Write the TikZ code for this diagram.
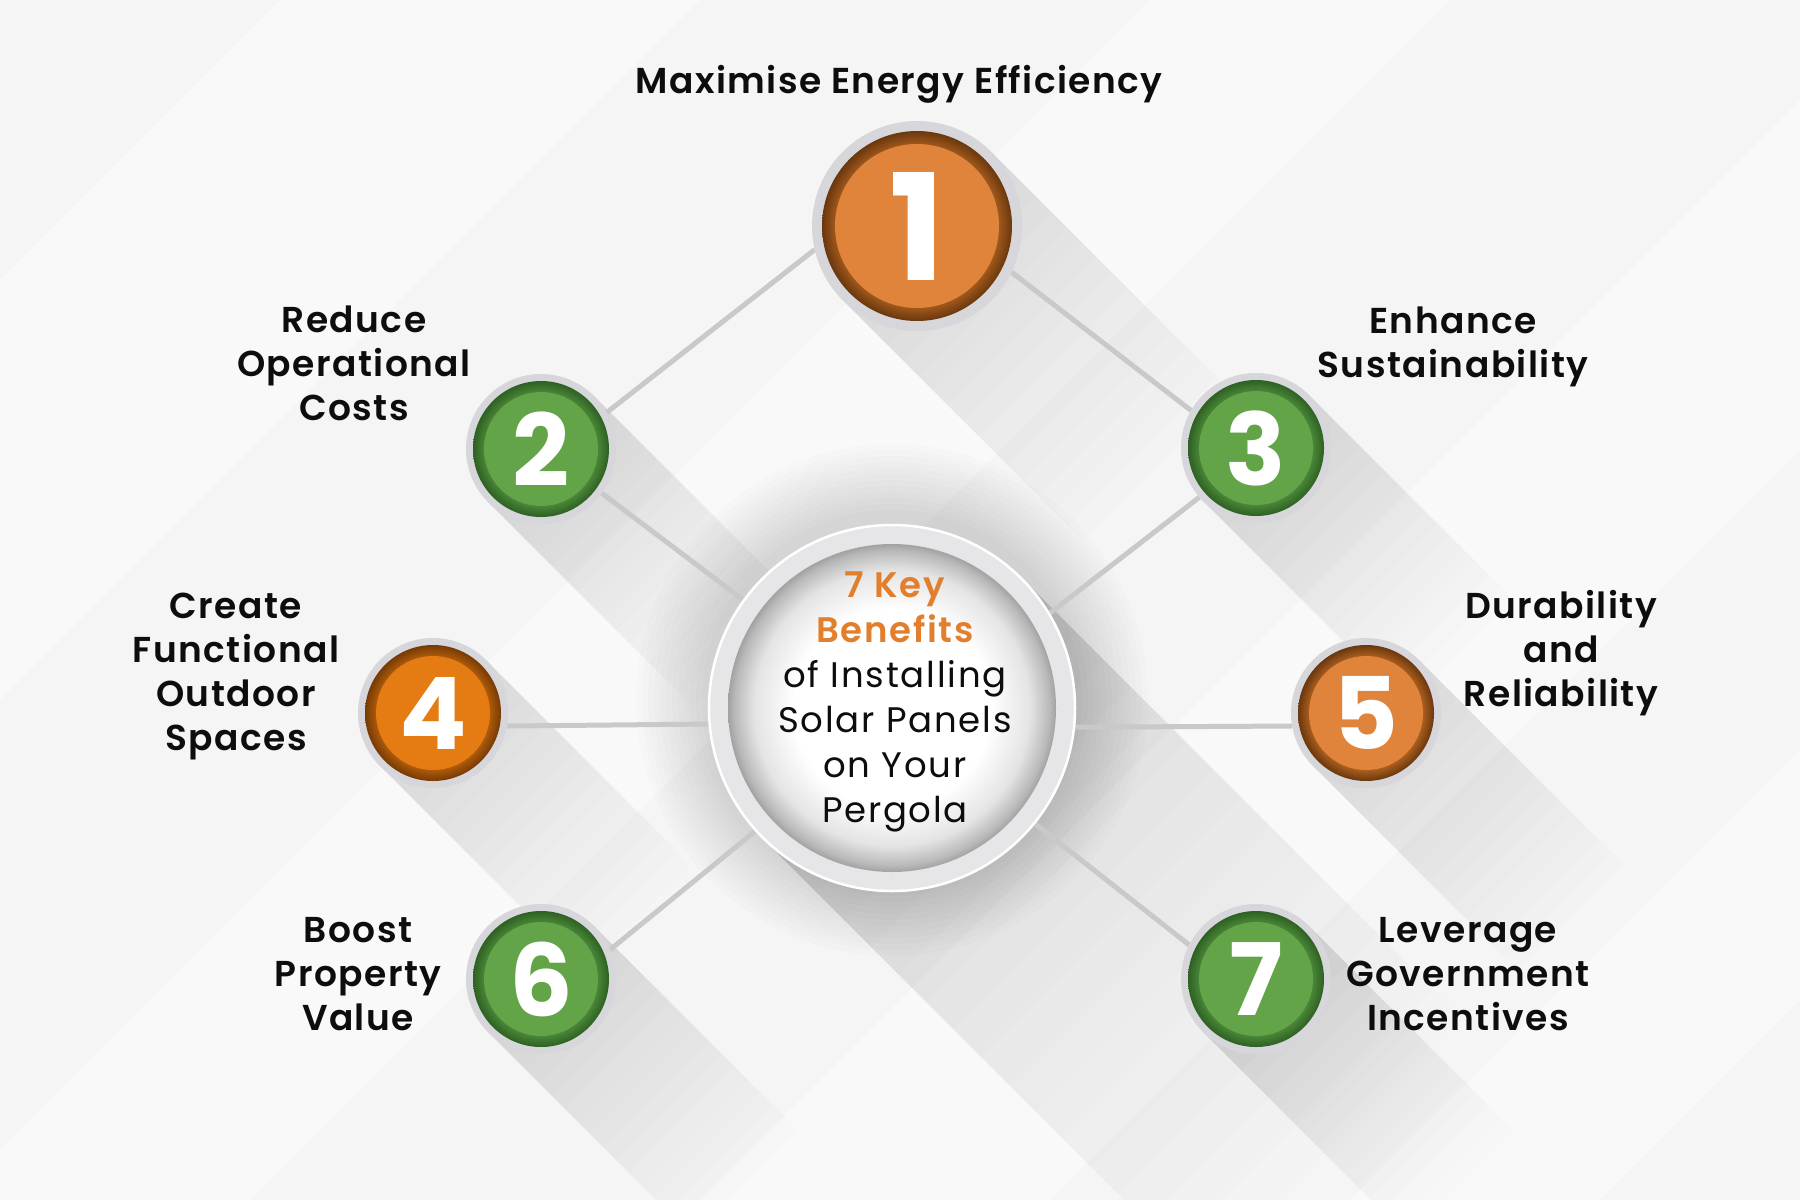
\documentclass[tikz,border=0pt]{standalone}
\usepackage{fontspec}
\setmainfont{Poppins}[BoldFont={Poppins SemiBold}, LetterSpace=4]
\newfontfamily\cfont{Poppins}[BoldFont={Poppins SemiBold}, LetterSpace=5]
\newfontfamily\numfont{Poppins}
\definecolor{bgc}{HTML}{F5F5F5}
\definecolor{txt}{HTML}{0D0D0D}
\definecolor{ortxt}{HTML}{E27F2C}
\definecolor{linegray}{HTML}{C9C9CB}
\definecolor{ringgray}{HTML}{D6D6DB}
\definecolor{cring}{HTML}{E6E6E8}
\definecolor{grnmain}{HTML}{63A448}
\definecolor{grnB}{HTML}{4C8A39}
\definecolor{grnC}{HTML}{2E6023}
\definecolor{ormain}{HTML}{E0843B}
\definecolor{orB}{HTML}{B0621F}
\definecolor{orC}{HTML}{6A370E}
\definecolor{orfmain}{HTML}{E57B13}
\definecolor{orfB}{HTML}{B45E0A}
\definecolor{orfC}{HTML}{763A05}
\definecolor{cdA}{HTML}{FFFFFF}
\definecolor{cdB}{HTML}{E4E4E4}
\definecolor{cdC}{HTML}{B9B9B9}
\definecolor{cdD}{HTML}{A2A2A2}
\pgfdeclareradialshading{grnshade}{\pgfpoint{0bp}{0bp}}{color(0bp)=(grnB); color(20.5bp)=(grnB); color(25bp)=(grnC); color(50bp)=(grnC)}
\pgfdeclareradialshading{orshade}{\pgfpoint{0bp}{0bp}}{color(0bp)=(orB); color(20.5bp)=(orB); color(25bp)=(orC); color(50bp)=(orC)}
\pgfdeclareradialshading{orfshade}{\pgfpoint{0bp}{0bp}}{color(0bp)=(orfB); color(20.5bp)=(orfB); color(25bp)=(orfC); color(50bp)=(orfC)}
\pgfdeclareradialshading{cdisk}{\pgfpoint{0bp}{0bp}}{color(0bp)=(cdA); color(15bp)=(cdA); color(21bp)=(cdB); color(24bp)=(cdC); color(25bp)=(cdD); color(50bp)=(cdD)}
\newcommand\lshadow[5]{%
  \begin{scope}[shift={(#1,#2)}, rotate=-45]
    \foreach \k in {1,...,16}{
      \fill[black, fill opacity=#5] (0,-#3) rectangle ({#4*\k/16},#3);
    }
  \end{scope}}
\begin{document}
\begin{tikzpicture}[x=1pt,y=-1pt,
  ringnode/.style={circle, inner sep=0pt, outer sep=0pt, minimum size=#1},
  conn/.style={draw=linegray, line width=5pt},
  lbl/.style={align=center, font=\fontsize{36}{44}\selectfont\bfseries, text=txt, inner sep=0pt},
  ctext/.style={align=center, font=\cfont\fontsize{35.5}{45}\selectfont, text=txt, inner sep=0pt},
  numsmall/.style={text=white, inner sep=0pt, font={\numfont\bfseries\fontsize{100}{100}\selectfont}},
  numbig/.style={text=white, inner sep=0pt, font={\numfont\bfseries\fontsize{148}{148}\selectfont}}
]
\useasboundingbox (0,0) rectangle (1800,1200);
\fill[bgc] (0,0) rectangle (1800,1200);
\begin{scope}
  \clip (0,0) rectangle (1800,1200);
  \fill[white, fill opacity=0.4] (280,0) -- (700,0) -- (-500,1200) -- (-920,1200) -- cycle;
  \fill[white, fill opacity=0.4] (1150,0) -- (1450,0) -- (250,1200) -- (-50,1200) -- cycle;
  \fill[white, fill opacity=0.4] (1900,0) -- (2250,0) -- (1050,1200) -- (700,1200) -- cycle;
  \fill[white, fill opacity=0.4] (2550,0) -- (2800,0) -- (1600,1200) -- (1350,1200) -- cycle;
  % long shadows
  \lshadow{892}{708}{184}{620}{0.009}
  \lshadow{917}{226}{105}{340}{0.008}
  \lshadow{541}{449}{75}{290}{0.008}
  \lshadow{1256}{448}{75}{290}{0.008}
  \lshadow{433}{713}{75}{290}{0.008}
  \lshadow{1366}{713}{75}{290}{0.008}
  \lshadow{541}{979}{75}{290}{0.008}
  \lshadow{1256}{979}{75}{290}{0.008}
  % halo round the centre
  \foreach \k in {1,...,12}{
    \fill[black, fill opacity=0.013] (892,700) circle ({184+6*\k});
  }
\end{scope}
% named circles
\node[ringnode=368pt] (c0) at (892,708) {};
\node[ringnode=210pt] (r1) at (917,226) {};
\node[ringnode=150pt] (r2) at (541,449) {};
\node[ringnode=150pt] (r3) at (1256,448) {};
\node[ringnode=150pt] (r4) at (433,713) {};
\node[ringnode=150pt] (r5) at (1366,713) {};
\node[ringnode=150pt] (r6) at (541,979) {};
\node[ringnode=150pt] (r7) at (1256,979) {};
% connectors
\draw[conn] (r2.29) -- (r1.193);
\draw[conn] (r1.334) -- (r3.150);
\draw[conn] (r2.-36) -- (c0.144);
\draw[conn] (r3.221) -- (c0.31);
\draw[conn] (r4.-10) -- (c0.185.6);
\draw[conn] (c0.354.4) -- (r5.190);
\draw[conn] (r6.23.5) -- (c0.222.6);
\draw[conn] (c0.321.6) -- (r7.153.4);
% centre circle
\fill[cring] (c0) circle (184);
\draw[white, line width=2.5pt] (c0) circle (183);
\shade[shading=cdisk] (c0) circle (164);
% outer grey rings
\foreach \n in {r2,r3,r4,r5,r6,r7}{ \fill[ringgray] (\n) circle (75); }
\fill[ringgray] (r1) circle (105);
% coloured discs
\shade[shading=orshade] (r1) circle (95);  \fill[ormain] (r1) circle (82);
\shade[shading=grnshade] (r2) circle (68); \fill[grnmain] (r2) circle (57);
\shade[shading=grnshade] (r3) circle (68); \fill[grnmain] (r3) circle (57);
\shade[shading=orfshade] (r4) circle (68); \fill[orfmain] (r4) circle (57);
\shade[shading=orshade] (r5) circle (68);  \fill[ormain] (r5) circle (57);
\shade[shading=grnshade] (r6) circle (68); \fill[grnmain] (r6) circle (57);
\shade[shading=grnshade] (r7) circle (68); \fill[grnmain] (r7) circle (57);
% numbers
\node[numbig] (num1) at (r1) {1};
\node[numsmall] (num2) at (r2) {2};
\node[numsmall] (num3) at (r3) {3};
\node[numsmall] (num4) at (r4) {4};
\node[numsmall] (num5) at (r5) {5};
\node[numsmall] (num6) at (r6) {6};
\node[numsmall] (num7) at (r7) {7};
% labels
\node[lbl] (t1) at (899,84) {Maximise Energy Efficiency};
\node[lbl] (t2) at (354,363) {Reduce\\Operational\\Costs};
\node[lbl] (t3) at (1453,347) {Enhance\\Sustainability};
\node[lbl] (t4) at (236,677) {Create\\Functional\\Outdoor\\Spaces};
\node[lbl] (t5) at (1561,653) {Durability\\and\\Reliability};
\node[lbl] (t6) at (358,974) {Boost\\Property\\Value};
\node[lbl] (t7) at (1468,974) {Leverage\\Government\\Incentives};
\node[ctext] (tc) at (895,702) {{\bfseries\color{ortxt}7 Key}\\{\bfseries\color{ortxt}Benefits}\\of Installing\\Solar Panels\\on Your\\Pergola};
\end{tikzpicture}
\end{document}
